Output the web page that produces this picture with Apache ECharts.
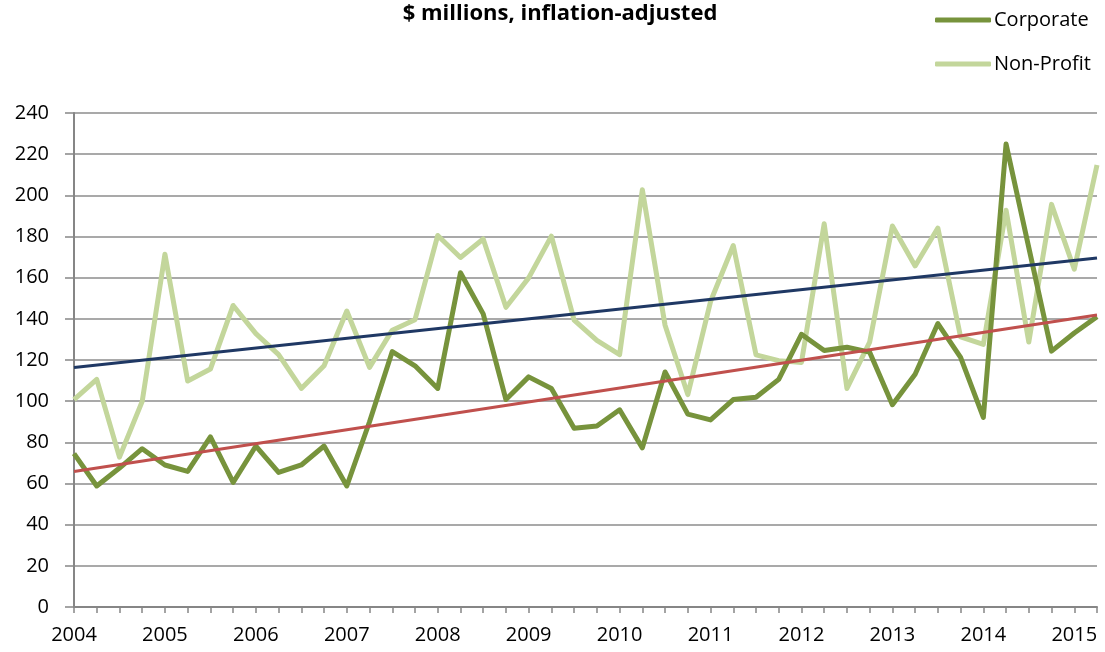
<!DOCTYPE html>
<html>
<head>
<meta charset="utf-8">
<title>Corporate vs Non-Profit</title>
<script src="https://cdn.jsdelivr.net/npm/echarts@6/dist/echarts.min.js"></script>
<style>
  html, body { margin: 0; padding: 0; background: #fff; }
  #chart { width: 1105px; height: 652px; }
</style>
</head>
<body>
<div id="chart"></div>
<script>
// quarters 2004 Q1 .. 2015 Q2
const years = ['2004', '2005', '2006', '2007', '2008', '2009', '2010', '2011', '2012', '2013', '2014', '2015']
const quarters = []
years.forEach(y => {
  ['Q1', 'Q2', 'Q3', 'Q4'].forEach(q => quarters.push(y + ' ' + q))
})
const categories = quarters.slice(0, 46)

const corporate = [
  74.5, 58.8, 67.5, 76.9, 69.0, 65.9, 82.7, 60.5, 78.2, 65.4, 69.0, 78.2,
  58.8, 90.0, 124.1, 117.2, 106.2, 162.4, 142.4, 100.8, 111.8, 106.2, 86.8, 87.9,
  95.8, 77.3, 114.2, 93.7, 90.9, 100.8, 101.9, 110.6, 132.5, 124.6, 126.2, 123.8,
  98.3, 113.1, 137.7, 121.3, 92.1, 224.9, 174.6, 124.3, 133.1, 141.0
]
const nonProfit = [
  100.8, 110.6, 72.8, 99.9, 171.4, 109.8, 115.6, 146.5, 132.8, 122.6, 106.2, 117.2,
  143.8, 116.4, 134.5, 139.6, 180.5, 169.8, 178.8, 145.6, 159.9, 180.2, 139.4, 129.5,
  122.6, 202.7, 136.9, 103.2, 148.4, 175.6, 122.5, 119.7, 118.8, 186.2, 106.2, 128.7,
  185.1, 165.7, 184.1, 131.2, 127.6, 192.8, 128.7, 195.6, 164.1, 214.7
]
// linear trend lines, values at first and last quarter
const corporateTrend = [65.8, 141.9]
const nonProfitTrend = [116.4, 169.5]

const yTicks = { min: 0, max: 240, step: 20 }

const chart = echarts.init(document.getElementById('chart'))
const last = categories.length - 1
const option = {
  animation: false,
  title: {
    text: '$ millions, inflation-adjusted',
    left: 555,
    textAlign: 'center',
    top: -2,
    textStyle: {
      fontFamily: 'Open Sans',
      fontWeight: 'bold',
      fontSize: 22,
      color: '#000'
    }
  },
  legend: {
    orient: 'vertical',
    left: 930,
    top: 4,
    icon: 'roundRect',
    itemWidth: 56,
    itemHeight: 5,
    itemGap: 22,
    data: ['Corporate', 'Non-Profit'],
    textStyle: {
      fontFamily: 'Open Sans',
      fontSize: 20,
      lineHeight: 22,
      color: '#000',
      padding: [0, 0, 0, -2]
    }
  },
  grid: {
    left: 74,
    right: 8,
    top: 113,
    bottom: 45
  },
  xAxis: {
    type: 'category',
    data: categories,
    boundaryGap: false,
    axisLine: { lineStyle: { color: '#868686', width: 2 } },
    axisTick: {
      interval: 0,
      length: 6,
      lineStyle: { color: '#868686', width: 1.5 }
    },
    axisLabel: {
      interval: 3,
      margin: 18,
      fontFamily: 'Open Sans',
      fontSize: 20,
      color: '#000',
      formatter: v => v.slice(0, 4)
    },
    splitLine: { show: false }
  },
  yAxis: {
    type: 'value',
    min: yTicks.min,
    max: yTicks.max,
    interval: yTicks.step,
    axisLine: { show: true, lineStyle: { color: '#868686', width: 2 } },
    axisTick: { show: true, length: 9, lineStyle: { color: '#868686', width: 1.5 } },
    axisLabel: {
      margin: 25,
      fontFamily: 'Open Sans',
      fontSize: 20,
      color: '#000'
    },
    splitLine: { lineStyle: { color: '#8c8c8c', width: 1.5 } }
  },
  series: [
    {
      name: 'Corporate',
      type: 'line',
      data: corporate,
      symbol: 'none',
      z: 4,
      lineStyle: { color: '#77933c', width: 5, join: 'round' },
      itemStyle: { color: '#77933c' }
    },
    {
      name: 'Non-Profit',
      type: 'line',
      data: nonProfit,
      symbol: 'none',
      z: 3,
      lineStyle: { color: '#c3d69b', width: 5, join: 'round' },
      itemStyle: { color: '#c3d69b' }
    },
    {
      name: 'Non-Profit trend',
      type: 'line',
      data: [[0, nonProfitTrend[0]], [last, nonProfitTrend[1]]],
      symbol: 'none',
      z: 5,
      lineStyle: { color: '#1f3864', width: 3 }
    },
    {
      name: 'Corporate trend',
      type: 'line',
      data: [[0, corporateTrend[0]], [last, corporateTrend[1]]],
      symbol: 'none',
      z: 5,
      lineStyle: { color: '#c0504d', width: 3 }
    }
  ]
}
chart.setOption(option)
</script>
</body>
</html>
